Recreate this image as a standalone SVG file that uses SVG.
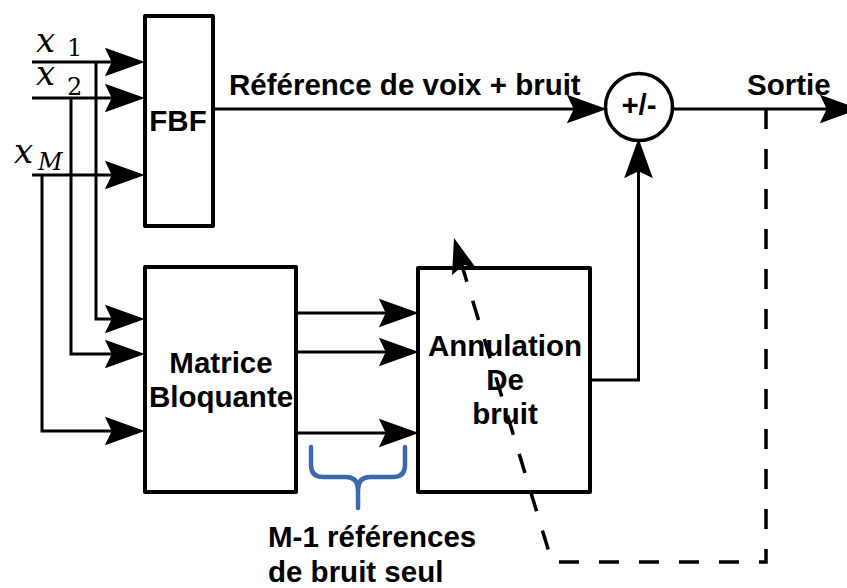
<svg xmlns="http://www.w3.org/2000/svg" width="847" height="588" viewBox="0 0 847 588">
<style>
  .box { fill: #fff; stroke: #000; stroke-width: 4; stroke-linejoin: round; }
  .lbl { font-family: "Liberation Sans", Arial, sans-serif; font-weight: bold; font-size: 29.5px; fill: #000; }
  .wire { fill: none; stroke: #000; stroke-width: 3; }
  .arr { marker-end: url(#ah); }
  .dash { fill: none; stroke: #000; stroke-width: 3.5; stroke-dasharray: 20 20; }
  .math { font-family: "DejaVu Serif", "Liberation Serif", serif; fill: #000; }
  .mx { font-size: 34px; font-style: italic; }
  .sub { font-size: 24px; }
</style>
<defs>
  <marker id="ah" markerUnits="userSpaceOnUse" markerWidth="40" markerHeight="30" viewBox="0 0 35 25" refX="15" refY="12.5" orient="auto">
    <path d="M0,0 L35,12.5 L0,25 L6,12.5 z" fill="#000"/>
  </marker>
</defs>
<rect width="847" height="588" fill="#fff"/>

<g id="connectors">
  <line class="wire arr" x1="32" y1="62" x2="122" y2="62"/>
  <line class="wire arr" x1="32" y1="98" x2="122" y2="98"/>
  <line class="wire arr" x1="32" y1="175" x2="122" y2="175"/>
  <polyline class="wire arr" points="96,62 96,319 122,319"/>
  <polyline class="wire arr" points="71,98 71,354 122,354"/>
  <polyline class="wire arr" points="42,175 42,431 122,431"/>
  <line class="wire arr" x1="297" y1="313" x2="396" y2="313"/>
  <line class="wire arr" x1="297" y1="352" x2="396" y2="352"/>
  <line class="wire arr" x1="297" y1="433" x2="396" y2="433"/>
  <line class="wire arr" x1="213" y1="109" x2="584" y2="109"/>
  <polyline class="wire arr" points="590,380 638.5,380 638.5,161"/>
  <line class="wire arr" x1="673" y1="109" x2="837" y2="109"/>
  <polyline class="dash" points="766,109 766,562 552,562 460,259"/>
  <path d="M454,238 L476,268 L464,265 L452,275 z" fill="#000"/>
  <path d="M311,447 L311,465 Q311,477 323,477 L346,477 Q358,477 358,490 L358,508 M405,447 L405,465 Q405,477 393,477 L370,477 Q358,477 358,490" fill="none" stroke="#3d68ad" stroke-width="4.5" stroke-linecap="round" stroke-linejoin="round"/>
</g>

<g id="x-labels">
  <text class="math mx" x="36" y="52">x</text>
  <text class="math sub" x="67" y="56">1</text>
  <text class="math mx" x="36" y="85">x</text>
  <text class="math sub" x="67" y="95">2</text>
  <text class="math mx" x="14" y="163">x</text>
  <text class="math sub" x="38" y="170" font-style="italic" font-size="25">M</text>
</g>

<g id="fbf">
  <rect class="box" x="145" y="16" width="68" height="210"/>
  <text class="lbl" x="178" y="131" text-anchor="middle" font-size="27">FBF</text>
</g>

<g id="matrice">
  <rect class="box" x="145" y="267" width="151" height="225"/>
  <text class="lbl" x="221" y="373" text-anchor="middle">Matrice</text>
  <text class="lbl" x="221" y="407" text-anchor="middle">Bloquante</text>
</g>

<g id="annulation">
  <rect class="box" x="418" y="268" width="172" height="224" fill-opacity="0"/>
  <text class="lbl" x="505" y="356" text-anchor="middle">Annulation</text>
  <text class="lbl" x="505" y="390" text-anchor="middle">De</text>
  <text class="lbl" x="505" y="424" text-anchor="middle">bruit</text>
</g>

<g id="sum">
  <circle cx="639" cy="107" r="33.5" fill="#fff" stroke="#000" stroke-width="3.5"/>
  <text class="lbl" x="639" y="115" text-anchor="middle">+/-</text>
</g>

<g id="texts">
  <text class="lbl" x="229" y="95">Référence de voix + bruit</text>
  <text class="lbl" x="747" y="95">Sortie</text>
  <text class="lbl" x="268" y="547">M-1 références</text>
  <text class="lbl" x="268" y="582">de bruit seul</text>
</g>
</svg>
